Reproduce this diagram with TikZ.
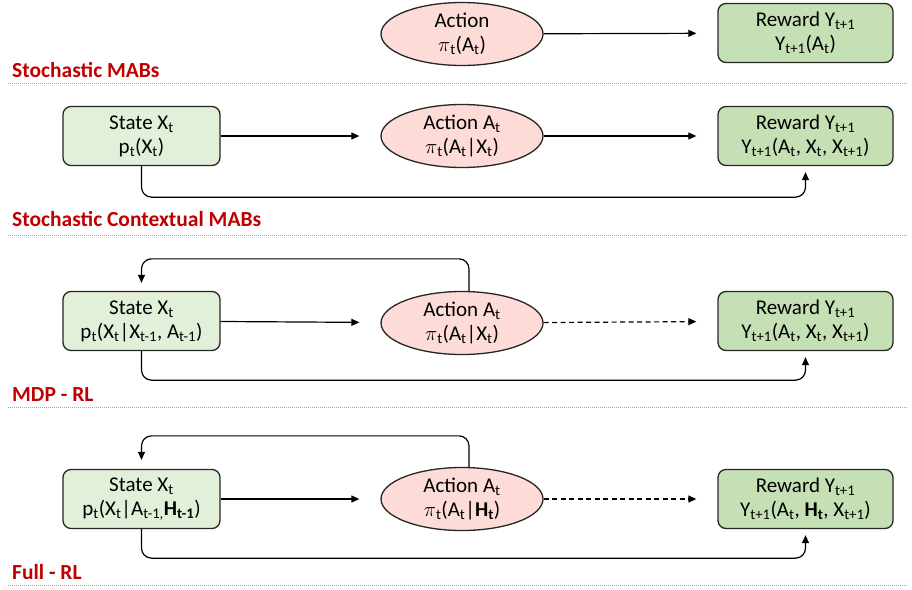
\documentclass[tikz,border=0pt]{standalone}
\usepackage{fontspec}
\setmainfont{Carlito}
\usetikzlibrary{arrows.meta,shapes.geometric}
\newcommand\lo[1]{\textsubscript{#1}}
\definecolor{statefill}{HTML}{E2F0D9}
\definecolor{rewardfill}{HTML}{C5E0B4}
\definecolor{actfill}{HTML}{FDDCD8}
\definecolor{labelred}{HTML}{C00000}
\definecolor{edge}{HTML}{262626}

\tikzset{
  nodefont/.style={font=\fontsize{21}{24}\selectfont},
  basebox/.style={draw=edge, line width=1.3pt, rounded corners=8pt,
    minimum height=59pt, align=center, inner sep=2pt, nodefont},
  statebox/.style={basebox, fill=statefill, minimum width=157pt},
  rewardbox/.style={basebox, fill=rewardfill, minimum width=175pt},
  actnode/.style={ellipse, draw=edge, line width=1.3pt, fill=actfill,
    minimum width=162pt, minimum height=63pt, inner sep=0pt, align=center, nodefont},
  flow/.style={draw=black, line width=1.2pt, -{Triangle[length=8pt,width=7pt]}},
  dflow/.style={flow, dashed, dash pattern=on 5pt off 3.5pt},
  loopflow/.style={flow, rounded corners=10pt},
  lbl/.style={anchor=west, inner sep=0pt, text=labelred,
    font=\fontsize{21.5}{24}\selectfont\bfseries},
  sep/.style={draw=black!35, line width=1pt, densely dotted}
}

\begin{document}
\begin{tikzpicture}[x=1pt, y=-1pt]
\useasboundingbox (0,0) rectangle (912,589);

% --- Stochastic MABs
\node[actnode]   (a1) at (462,34)    {Action\\\(\pi\)\lo{t}(A\lo{t})};
\node[rewardbox] (r1) at (805.5,33)  {Reward Y\lo{t+1}\\Y\lo{t+1}(A\lo{t})};
\draw[flow, shorten >=21pt] (a1) -- (r1);
\node[lbl] (l1) at (12,70) {Stochastic MABs};
\draw[sep] (8,83) -- (908,83);

% --- Stochastic contextual MABs
\node[statebox]  (s2) at (141.5,136) {State X\lo{t}\\p\lo{t}(X\lo{t})};
\node[actnode]   (a2) at (462,136)   {Action A\lo{t}\\\(\pi\)\lo{t}(A\lo{t}|X\lo{t})};
\node[rewardbox] (r2) at (805.5,136) {Reward Y\lo{t+1}\\Y\lo{t+1}(A\lo{t}, X\lo{t}, X\lo{t+1})};
\draw[flow, shorten >=21pt] (s2) -- (a2);
\draw[flow, shorten >=21pt] (a2) -- (r2);
\draw[loopflow, shorten >=6pt] (s2.south) -- ++(0,31) -| (r2.south);
\node[lbl] (l2) at (12,219) {Stochastic Contextual MABs};
\draw[sep] (8,235) -- (908,235);

% --- MDP - RL
\node[statebox]  (s3) at (141.5,321) {State X\lo{t}\\p\lo{t}(X\lo{t}|X\lo{t-1}, A\lo{t-1})};
\node[actnode]   (a3) at (462,323)   {Action A\lo{t}\\\(\pi\)\lo{t}(A\lo{t}|X\lo{t})};
\node[rewardbox] (r3) at (805.5,321) {Reward Y\lo{t+1}\\Y\lo{t+1}(A\lo{t}, X\lo{t}, X\lo{t+1})};
\draw[flow, shorten >=21pt] (s3) -- (a3);
\draw[dflow, shorten >=21pt] (a3) -- (r3);
\draw[loopflow, shorten >=8pt] ([xshift=7pt]a3.north) -- ++(0,-32) -| (s3.north);
\draw[loopflow, shorten >=6pt] (s3.south) -- ++(0,29) -| (r3.south);
\node[lbl] (l3) at (12,395) {MDP - RL};
\draw[sep] (8,407) -- (908,407);

% --- Full - RL
\node[statebox]  (s4) at (141.5,499) {State X\lo{t}\\p\lo{t}(X\lo{t}|A\lo{t-1,}\textbf{H\lo{t-1}})};
\node[actnode]   (a4) at (462,499)   {Action A\lo{t}\\\(\pi\)\lo{t}(A\lo{t}|\textbf{H\lo{t}})};
\node[rewardbox] (r4) at (805.5,499) {Reward Y\lo{t+1}\\Y\lo{t+1}(A\lo{t}, \textbf{H\lo{t}}, X\lo{t+1})};
\draw[flow, shorten >=21pt] (s4) -- (a4);
\draw[dflow, shorten >=21pt] (a4) -- (r4);
\draw[loopflow, shorten >=9pt] ([xshift=7pt]a4.north) -- ++(0,-31) -| (s4.north);
\draw[loopflow, shorten >=6pt] (s4.south) -- ++(0,29) -| (r4.south);
\node[lbl] (l4) at (12,572) {Full - RL};
\draw[sep] (8,585) -- (908,585);
\end{tikzpicture}
\end{document}
